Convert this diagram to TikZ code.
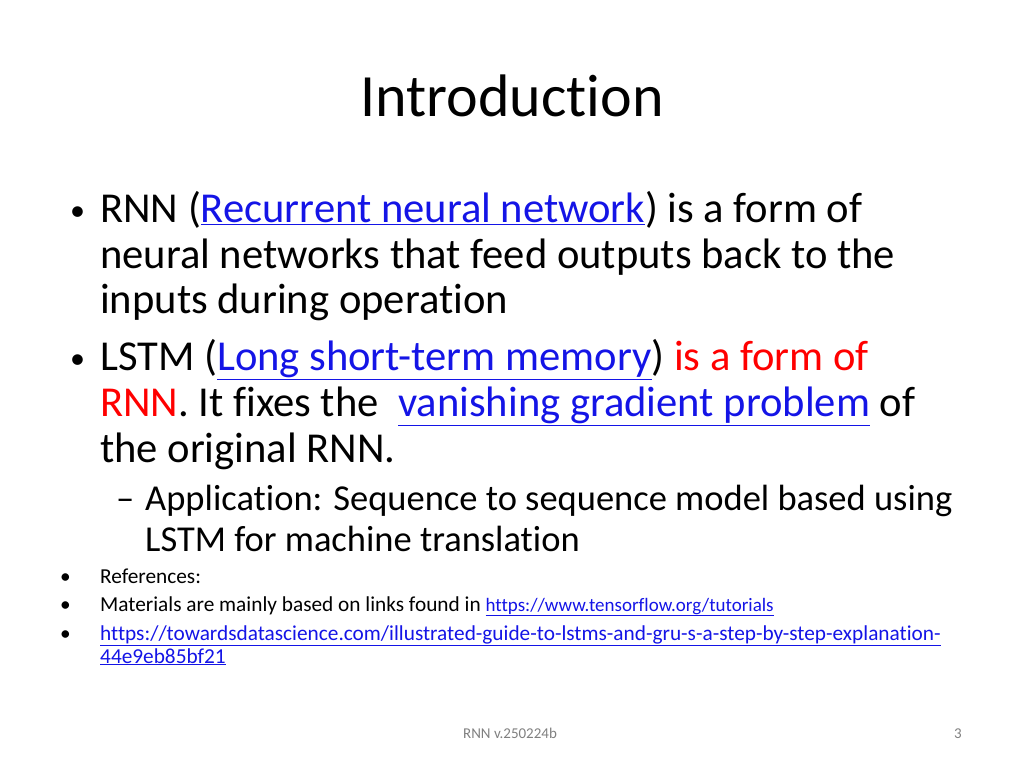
\documentclass[tikz,border=0pt]{standalone}
\usepackage{fontspec}
\setmainfont[RawFeature={-liga;-clig;-dlig}]{Carlito}
\definecolor{lnk}{RGB}{20,20,230}
\newcommand{\lk}[1]{\textcolor{lnk}{\underline{#1}}}
\begin{document}
\begin{tikzpicture}[x=1pt,y=-1pt,
  big/.style={anchor=base west,inner sep=0pt,font=\fontsize{42.6}{48}\selectfont},
  bul/.style={anchor=base west,inner sep=0pt,font=\fontsize{30}{36}\selectfont},
  mid/.style={anchor=base west,inner sep=0pt,font=\fontsize{36.5}{40}\selectfont},
  sml/.style={anchor=base west,inner sep=0pt,font=\fontsize{21.3}{24}\selectfont},
  foot/.style={anchor=base,inner sep=0pt,font=\fontsize{15}{18}\selectfont,text=gray}]
\useasboundingbox (0,0) rectangle (1024,768);
\node[anchor=base,inner sep=0pt,font=\fontsize{60}{70}\selectfont] (title) at (512,116) {Introduction};
\node[bul] (b1) at (70,220) {•};
\node[big] (l1) at (100,222) {RNN (\lk{Recurrent neural network}) is a form of};
\node[big] (l2) at (100,268) {neural networks that feed outputs back to the};
\node[big] (l3) at (100,313) {inputs during operation};
\node[bul] (b2) at (70,368) {•};
\node[big] (l4) at (100,370) {LSTM (\lk{Long short-term memory}) \textcolor{red}{is a form of}};
\node[big] (l5) at (100,416) {\textcolor{red}{RNN}. It fixes the~ \lk{vanishing gradient problem} of};
\node[big] (l6) at (100,462) {the original RNN.};
\node[mid] (d1) at (116,510) {–};
\node[mid] (l7) at (145,510) {Application: Sequence to sequence model based using};
\node[mid] (l8) at (145,551) {LSTM for machine translation};
\node[sml] (s1) at (60,583) {•};
\node[sml] (r1) at (100,583) {References:};
\node[sml] (s2) at (60,611) {•};
\node[sml] (r2) at (100,611) {Materials are mainly based on links found in {\fontsize{19}{22}\selectfont\lk{https://www.tensorflow.org/tutorials}}};
\node[sml] (s3) at (60,640) {•};
\node[sml] (r3) at (100,640) {\lk{https://towardsdatascience.com/illustrated-guide-to-lstms-and-gru-s-a-step-by-step-explanation-}};
\node[sml] (r4) at (100,663) {\lk{44e9eb85bf21}};
\node[foot] (f1) at (510,738) {RNN v.250224b};
\node[foot] (f2) at (958,738) {3};
\end{tikzpicture}
\end{document}
